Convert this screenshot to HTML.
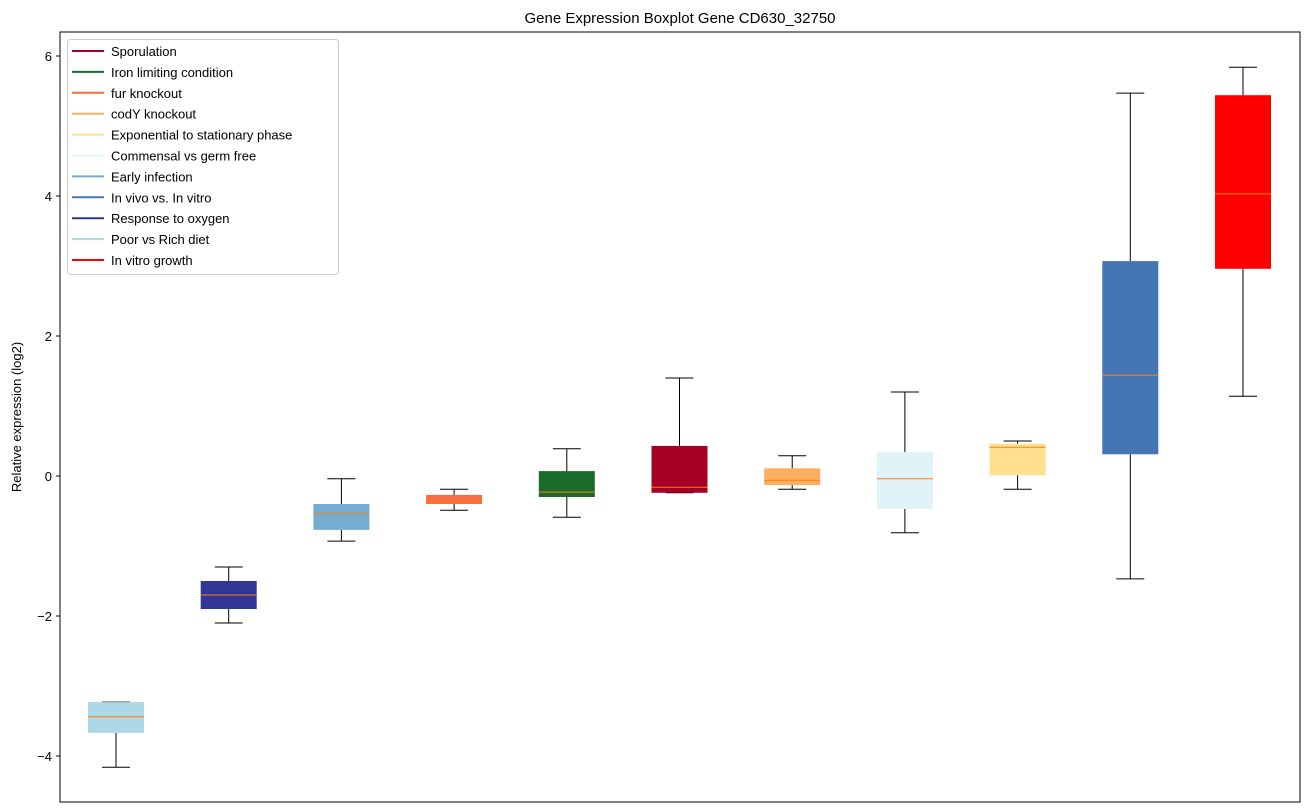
<!DOCTYPE html>
<html><head><meta charset="utf-8"><style>
html,body{margin:0;padding:0;background:#fff;}
svg{display:block;font-family:"Liberation Sans","DejaVu Sans",sans-serif;}
</style></head><body>
<svg id="chart" width="1309" height="812" xmlns="http://www.w3.org/2000/svg"></svg>
<script>
const categories=["Poor vs Rich diet","Response to oxygen","Early infection","fur knockout","Iron limiting condition","Sporulation","codY knockout","Commensal vs germ free","Exponential to stationary phase","In vivo vs. In vitro","In vitro growth"];
const whiskerLow=[-4.16,-2.1,-0.93,-0.49,-0.59,-0.24,-0.19,-0.81,-0.19,-1.47,1.14];
const q1=[-3.67,-1.9,-0.77,-0.4,-0.3,-0.24,-0.13,-0.47,0.01,0.31,2.96];
const median=[-3.44,-1.7,-0.54,-0.37,-0.23,-0.16,-0.06,-0.04,0.41,1.44,4.03];
const q3=[-3.23,-1.5,-0.4,-0.27,0.07,0.43,0.11,0.34,0.46,3.07,5.44];
const whiskerHigh=[-3.23,-1.3,-0.04,-0.19,0.39,1.4,0.29,1.2,0.5,5.47,5.84];
const colors=["#add8e6","#313695","#74add1","#f46d43","#1a6b2a","#a50026","#fdae61","#e0f3f8","#fee090","#4575b4","#ff0000"];
const yTicks=[-4,-2,0,2,4,6];
const legendLabels=["Sporulation","Iron limiting condition","fur knockout","codY knockout","Exponential to stationary phase","Commensal vs germ free","Early infection","In vivo vs. In vitro","Response to oxygen","Poor vs Rich diet","In vitro growth"];
const legendColors=["#a50026","#1a6b2a","#f46d43","#fdae61","#fee090","#e0f3f8","#74add1","#4575b4","#313695","#add8e6","#ff0000"];

const NS="http://www.w3.org/2000/svg";
const svg=document.getElementById('chart');
const L=60,R=1300,T=32,B=802;
const y=v=>476-70*v;
const x=i=>116+i*112.7;
function mk(tag,attrs,parent){const e=document.createElementNS(NS,tag);for(const k in attrs)e.setAttribute(k,attrs[k]);(parent||svg).appendChild(e);return e;}

const title=mk('text',{x:680,y:23,'text-anchor':'middle','font-size':15,fill:'#000'});


title.textContent="Gene Expression Boxplot Gene CD630_32750";

const yl=mk('text',{x:21,y:417,'text-anchor':'middle','font-size':13,transform:'rotate(-90 21 417)'});


yl.textContent="Relative expression (log2)";

yTicks.forEach(t=>{
  const g=mk('g',{});
  
  
  mk('line',{x1:L-4,x2:L,y1:y(t),y2:y(t),stroke:'#000'},g);
  const tx=mk('text',{x:L-8,y:y(t)+5,'text-anchor':'end','font-size':13},g);
  tx.textContent=(t<0?'\u2212'+(-t):t);
});

categories.forEach((c,i)=>{
  const g=mk('g',{});
  
  
  const cx=x(i),w=56,cw=28;
  mk('line',{x1:cx,x2:cx,y1:y(whiskerLow[i]),y2:y(q1[i]),stroke:'#000'},g);
  mk('line',{x1:cx,x2:cx,y1:y(q3[i]),y2:y(whiskerHigh[i]),stroke:'#000'},g);
  mk('line',{x1:cx-cw/2,x2:cx+cw/2,y1:y(whiskerLow[i]),y2:y(whiskerLow[i]),stroke:'#000'},g);
  mk('line',{x1:cx-cw/2,x2:cx+cw/2,y1:y(whiskerHigh[i]),y2:y(whiskerHigh[i]),stroke:'#000'},g);
  mk('rect',{x:cx-w/2,y:y(q3[i]),width:w,height:Math.max(1,y(q1[i])-y(q3[i])),fill:colors[i]},g);
  mk('line',{x1:cx-w/2,x2:cx+w/2,y1:y(median[i]),y2:y(median[i]),stroke:'#ff7f0e','stroke-width':1},g);
});

mk('rect',{x:L,y:T,width:R-L,height:B-T,fill:'none',stroke:'#000'});

const lg=mk('g',{});


mk('rect',{x:67.5,y:39.5,width:271,height:235,fill:'#fff',stroke:'#ccc',rx:3},lg);
legendLabels.forEach((l,i)=>{
  const e=mk('g',{},lg);
  
  
  const yy=51+i*20.9;
  mk('line',{x1:72,x2:104,y1:yy,y2:yy,stroke:legendColors[i],'stroke-width':2},e);
  const t=mk('text',{x:111,y:yy+5,'font-size':13},e);
  t.textContent=l;
});
</script>
</body></html>
